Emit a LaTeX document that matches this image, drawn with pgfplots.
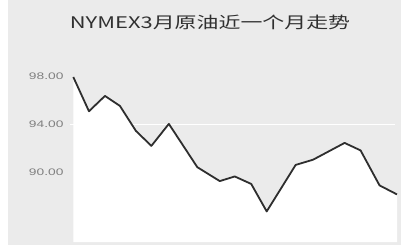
\documentclass[border=0pt]{standalone}
\usepackage{pgfplots}
\pgfplotsset{compat=1.18}
\usepackage{fontspec}
\setmainfont{Liberation Sans}
\newfontfamily\cjk{Noto Sans CJK SC}
\definecolor{bggray}{HTML}{EBEBEB}
\definecolor{linegray}{HTML}{2E2E2E}
\definecolor{titlegray}{HTML}{303030}
\definecolor{tickgray}{HTML}{808080}
\pgfplotstableread{
x y
73.3 97.97
89 95.09
105 96.38
120 95.54
136 93.44
151.5 92.18
169 94.03
183.5 92.18
197.5 90.39
220 89.22
235 89.61
251.5 88.98
267 86.67
296 90.58
313.5 91.02
345 92.43
361 91.80
380 88.86
397.5 88.10
}\oil
\begin{document}
\begin{tikzpicture}[x=1pt,y=1pt]
\path (0,0) rectangle (401,246);
\fill[bggray] (8,1) rectangle (401,246);
\node[text=titlegray, font=\cjk\fontsize{16}{16}\selectfont] at (210,224) {\scalebox{1.37}[1]{NYMEX3月原油近一个月走势}};
\begin{axis}[
  at={(70pt,4pt)}, anchor=south west,
  scale only axis, width=327pt, height=182pt,
  xmin=70, xmax=397.5, ymin=84.1, ymax=99.4,
  axis line style={draw=none},
  xtick=\empty,
  ytick={90,94,98},
  major tick length=0pt,
  yticklabel style={text=tickgray, font=\fontsize{9.5}{10}\selectfont, anchor=east, xshift=-3pt},
  yticklabel={\scalebox{1.45}[1]{\pgfmathprintnumber[fixed,zerofill,precision=2,assume math mode=true]{\tick}}},
  clip=false,
]
\addplot[fill=white, draw=none] table[x=x,y=y] {\oil} \closedcycle;
\addplot[white, line width=1pt] coordinates {(70,94) (395,94)};
\addplot[linegray, line width=1.8pt, line join=round] table[x=x,y=y] {\oil};
\end{axis}
\end{tikzpicture}
\end{document}
